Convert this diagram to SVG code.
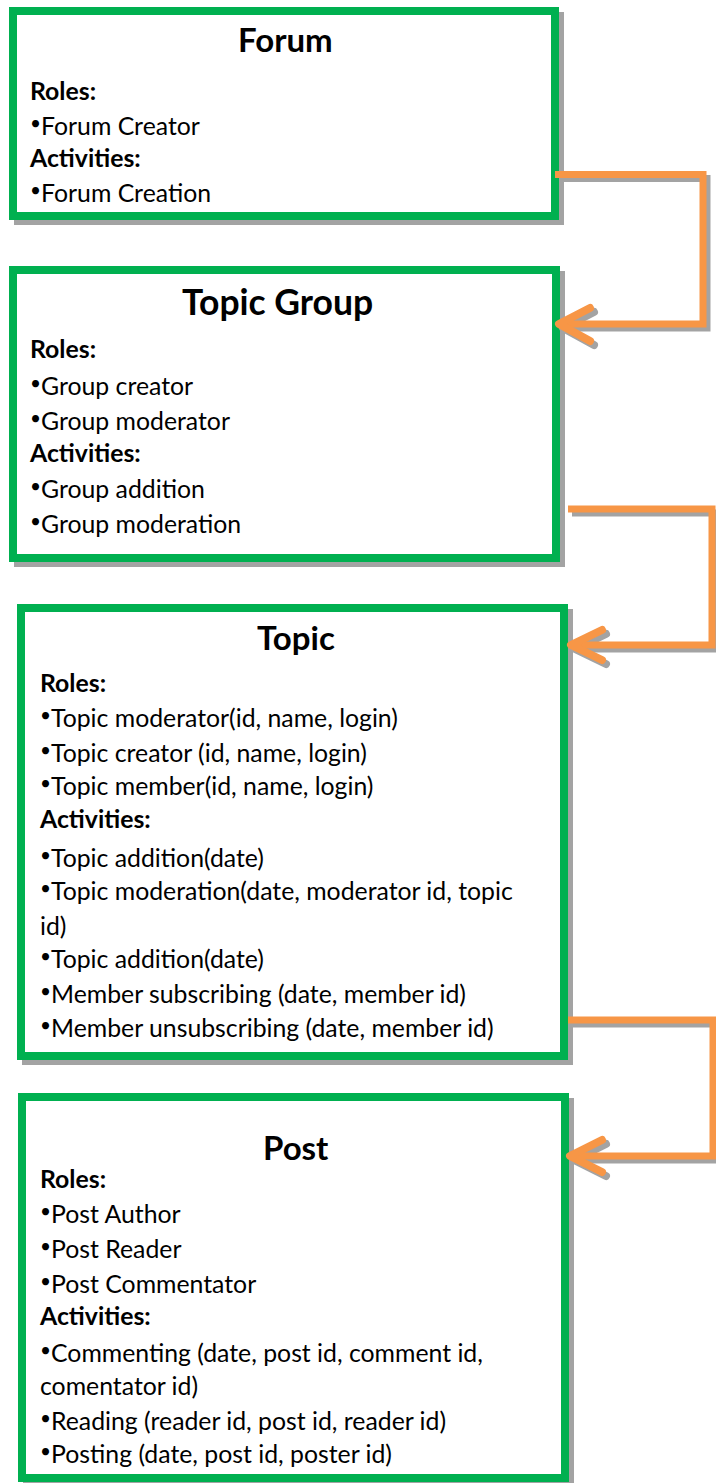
<svg xmlns="http://www.w3.org/2000/svg" width="716" height="1483" viewBox="0 0 716 1483">
<style>
.bg{fill:#fff}
.box{fill:#fff;stroke:#00b050;stroke-width:8}
.sh{fill:none;stroke:#a3a3a3;stroke-width:8}
.conn{fill:none;stroke:#f79646;stroke-width:7;stroke-linejoin:miter}
.arrow{fill:none;stroke:#f79646;stroke-width:8;stroke-linecap:round;stroke-linejoin:round}
.csh{fill:none;stroke:#a3a3a3;stroke-width:7}
.ash{fill:none;stroke:#a3a3a3;stroke-width:8;stroke-linecap:round;stroke-linejoin:round}
text{font-family:Lato,"Liberation Sans",sans-serif;font-size:24.8px;fill:#000}
.h{font-weight:bold}
.title{font-size:33px;font-weight:bold}
.b{font-size:19px}
</style>
<rect class="bg" x="0" y="0" width="716" height="1483"/>

<g id="forum">
<rect class="sh" x="18" y="16" width="542" height="205"/>
<rect class="box" x="13" y="11" width="542" height="205"/>
<text class="title" x="238" y="52">Forum</text>
<text class="h" x="30" y="100">Roles:</text>
<text x="30" y="135"><tspan class="b" dy="-5">•</tspan><tspan dy="5">Forum Creator</tspan></text>
<text class="h" x="30" y="167">Activities:</text>
<text x="30" y="202"><tspan class="b" dy="-5">•</tspan><tspan dy="5">Forum Creation</tspan></text>
</g>

<g id="topic-group">
<rect class="sh" x="18" y="275" width="543" height="288"/>
<rect class="box" x="13" y="270" width="543" height="288"/>
<text class="title" x="182" y="315" style="font-size:35.5px">Topic Group</text>
<text class="h" x="30" y="358">Roles:</text>
<text x="30" y="395"><tspan class="b" dy="-5">•</tspan><tspan dy="5">Group creator</tspan></text>
<text x="30" y="430"><tspan class="b" dy="-5">•</tspan><tspan dy="5">Group moderator</tspan></text>
<text class="h" x="30" y="462">Activities:</text>
<text x="30" y="498"><tspan class="b" dy="-5">•</tspan><tspan dy="5">Group addition</tspan></text>
<text x="30" y="533"><tspan class="b" dy="-5">•</tspan><tspan dy="5">Group moderation</tspan></text>
</g>

<g id="topic">
<rect class="sh" x="26" y="613" width="543" height="448"/>
<rect class="box" x="21" y="608" width="543" height="448"/>
<text class="title" x="257" y="650">Topic</text>
<text class="h" x="40" y="692">Roles:</text>
<text x="40" y="727"><tspan class="b" dy="-5">•</tspan><tspan dy="5">Topic moderator(id, name, login)</tspan></text>
<text x="40" y="762"><tspan class="b" dy="-5">•</tspan><tspan dy="5">Topic creator (id, name, login)</tspan></text>
<text x="40" y="795"><tspan class="b" dy="-5">•</tspan><tspan dy="5">Topic member(id, name, login)</tspan></text>
<text class="h" x="40" y="828">Activities:</text>
<text x="40" y="867"><tspan class="b" dy="-5">•</tspan><tspan dy="5">Topic addition(date)</tspan></text>
<text x="40" y="900"><tspan class="b" dy="-5">•</tspan><tspan dy="5">Topic moderation(date, moderator id, topic</tspan></text>
<text x="40" y="935">id)</text>
<text x="40" y="968"><tspan class="b" dy="-5">•</tspan><tspan dy="5">Topic addition(date)</tspan></text>
<text x="40" y="1003"><tspan class="b" dy="-5">•</tspan><tspan dy="5">Member subscribing (date, member id)</tspan></text>
<text x="40" y="1037"><tspan class="b" dy="-5">•</tspan><tspan dy="5">Member unsubscribing (date, member id)</tspan></text>
</g>

<g id="post">
<rect class="sh" x="27" y="1102" width="543" height="381"/>
<rect class="box" x="22" y="1097" width="543" height="381"/>
<text class="title" x="263" y="1160">Post</text>
<text class="h" x="40" y="1188">Roles:</text>
<text x="40" y="1223"><tspan class="b" dy="-5">•</tspan><tspan dy="5">Post Author</tspan></text>
<text x="40" y="1258"><tspan class="b" dy="-5">•</tspan><tspan dy="5">Post Reader</tspan></text>
<text x="40" y="1293"><tspan class="b" dy="-5">•</tspan><tspan dy="5">Post Commentator</tspan></text>
<text class="h" x="40" y="1325">Activities:</text>
<text x="40" y="1362"><tspan class="b" dy="-5">•</tspan><tspan dy="5">Commenting (date, post id, comment id,</tspan></text>
<text x="40" y="1395">comentator id)</text>
<text x="40" y="1430"><tspan class="b" dy="-5">•</tspan><tspan dy="5">Reading (reader id, post id, reader id)</tspan></text>
<text x="40" y="1463"><tspan class="b" dy="-5">•</tspan><tspan dy="5">Posting (date, post id, poster id)</tspan></text>
</g>

<g id="connectors">
<g transform="translate(4,4)">
<path class="csh" d="M555,174.5 H703 V324 H562"/>
<path class="ash" d="M590,308 L559,324 L590,341"/>
<path class="csh" d="M568,509 H712 V645 H574"/>
<path class="ash" d="M602,630 L571,645 L602,660"/>
<path class="csh" d="M568,1020 H713 V1156 H572"/>
<path class="ash" d="M602,1140 L570,1156 L602,1172"/>
</g>
<path class="conn" d="M555,174.5 H703 V324 H562"/>
<path class="arrow" d="M590,308 L559,324 L590,341"/>
<path class="conn" d="M568,509 H712 V645 H574"/>
<path class="arrow" d="M602,630 L571,645 L602,660"/>
<path class="conn" d="M568,1020 H713 V1156 H572"/>
<path class="arrow" d="M602,1140 L570,1156 L602,1172"/>
</g>
</svg>
